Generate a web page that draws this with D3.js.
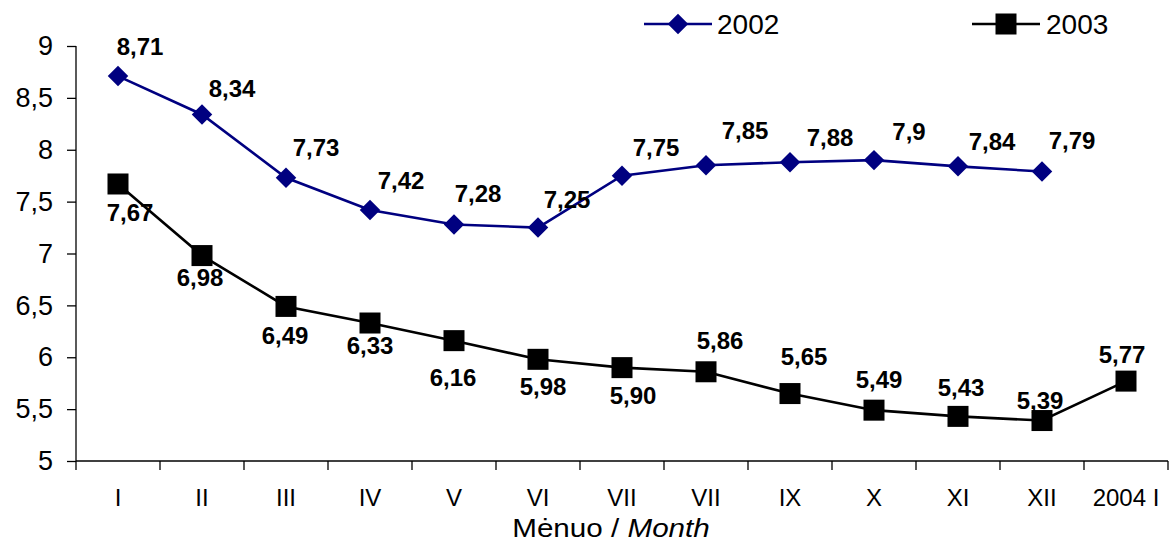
<!DOCTYPE html>
<html><head><meta charset="utf-8">
<script src="https://cdn.jsdelivr.net/npm/d3@7"></script>
<style>body{margin:0;background:#fff}svg{display:block;font-family:"Liberation Sans",Arial,sans-serif}</style>
</head><body><svg id="c" width="1171" height="544"></svg>
<script>
const months = ["I","II","III","IV","V","VI","VII","VII","IX","X","XI","XII","2004 I"];
const values2002 = [8.71,8.34,7.73,7.42,7.28,7.25,7.75,7.85,7.88,7.9,7.84,7.79];
const labels2002 = ["8,71","8,34","7,73","7,42","7,28","7,25","7,75","7,85","7,88","7,9","7,84","7,79"];
const values2003 = [7.67,6.98,6.49,6.33,6.16,5.98,5.90,5.86,5.65,5.49,5.43,5.39,5.77];
const labels2003 = ["7,67","6,98","6,49","6,33","6,16","5,98","5,90","5,86","5,65","5,49","5,43","5,39","5,77"];
const yTicks = [5,5.5,6,6.5,7,7.5,8,8.5,9];
const yTickLabels = ["5","5,5","6","6,5","7","7,5","8","8,5","9"];

// label placement (layout, in px)
const off2002 = [[22,-30],[30,-26],[30,-30],[31,-30],[24,-31],[29,-28],[34,-28],[39,-35],[40,-25],[35,-29],[34,-25],[30,-31]];
const off2003 = [[12,28],[-2,22],[-1,29],[0,22],[-1,37],[5,27],[11,28],[14,-31],[14,-37],[5,-31],[3,-29],[-2,-20],[-4,-27]];

const svg = d3.select("#c");
const x = d3.scaleBand().domain(d3.range(months.length)).range([76,1168]);
const y = d3.scaleLinear().domain([5,9]).range([461,46]);
const cx = i => x(i) + x.bandwidth()/2;

// y axis
const ya = svg.append("g").attr("transform","translate(76,0)")
  .call(d3.axisLeft(y).tickValues(yTicks).tickFormat((d,i)=>yTickLabels[i]).tickSize(9).tickPadding(14));
ya.select(".domain").attr("stroke","#000").attr("stroke-width",1.3).attr("d","M0,46V461");
ya.selectAll("line").attr("stroke","#000").attr("stroke-width",1.3);
ya.selectAll("text").attr("font-size",27).attr("fill","#000").attr("font-family","Liberation Sans, Arial, sans-serif");

// x axis
const xa = svg.append("g").attr("transform","translate(0,461)");
xa.append("line").attr("x1",76).attr("x2",1168).attr("stroke","#000").attr("stroke-width",1.3);
const bounds = d3.range(months.length+1).map(i => i<months.length ? x(i) : x(months.length-1)+x.bandwidth());
xa.selectAll("line.t").data(bounds).join("line").attr("class","t")
  .attr("x1",d=>d).attr("x2",d=>d).attr("y1",0).attr("y2",9).attr("stroke","#000").attr("stroke-width",1.3);
xa.selectAll("text").data(months).join("text")
  .attr("x",(d,i)=>cx(i)).attr("y",45).attr("text-anchor","middle").attr("font-size",24).text(d=>d);

// axis title
const title = svg.append("text").attr("transform","translate(611,537) scale(1.14,1)")
  .attr("text-anchor","middle").attr("font-size",26);
title.append("tspan").text("Mėnuo / ");
title.append("tspan").attr("font-style","italic").text("Month");

const line = d3.line().x((d,i)=>cx(i)).y(d=>y(d));
const blue = "#000080";

// 2002
svg.append("path").datum(values2002).attr("d",line).attr("fill","none").attr("stroke",blue).attr("stroke-width",2.6);
const diamond = d3.symbol().type(d3.symbolSquare).size(210);
svg.selectAll("path.d").data(values2002).join("path").attr("class","d")
  .attr("d",diamond()).attr("fill",blue)
  .attr("transform",(d,i)=>`translate(${cx(i)},${y(d)}) rotate(45)`);

// 2003
svg.append("path").datum(values2003).attr("d",line).attr("fill","none").attr("stroke","#000").attr("stroke-width",2.6);
svg.selectAll("rect.s").data(values2003).join("rect").attr("class","s")
  .attr("x",(d,i)=>cx(i)-10.5).attr("y",d=>y(d)-10.5).attr("width",21).attr("height",21).attr("fill","#000");

// labels
svg.selectAll("text.l2").data(values2002).join("text").attr("class","l2")
  .attr("x",(d,i)=>cx(i)+off2002[i][0]).attr("y",(d,i)=>y(d)+off2002[i][1]).attr("dy","0.36em")
  .attr("text-anchor","middle").attr("font-size",24).attr("font-weight","bold").text((d,i)=>labels2002[i]);
svg.selectAll("text.l3").data(values2003).join("text").attr("class","l3")
  .attr("x",(d,i)=>cx(i)+off2003[i][0]).attr("y",(d,i)=>y(d)+off2003[i][1]).attr("dy","0.36em")
  .attr("text-anchor","middle").attr("font-size",24).attr("font-weight","bold").text((d,i)=>labels2003[i]);

// legend
const lg = svg.append("g");
lg.append("line").attr("x1",644).attr("x2",712).attr("y1",24).attr("y2",24).attr("stroke",blue).attr("stroke-width",2.6);
lg.append("path").attr("d",diamond()).attr("fill",blue).attr("transform","translate(678,24) rotate(45)");
lg.append("text").attr("x",717).attr("y",24).attr("dy","0.36em").attr("font-size",28).text("2002");
lg.append("line").attr("x1",972).attr("x2",1040).attr("y1",24).attr("y2",24).attr("stroke","#000").attr("stroke-width",2.6);
lg.append("rect").attr("x",995.5).attr("y",13.5).attr("width",21).attr("height",21).attr("fill","#000");
lg.append("text").attr("x",1046).attr("y",24).attr("dy","0.36em").attr("font-size",28).text("2003");
</script></body></html>
